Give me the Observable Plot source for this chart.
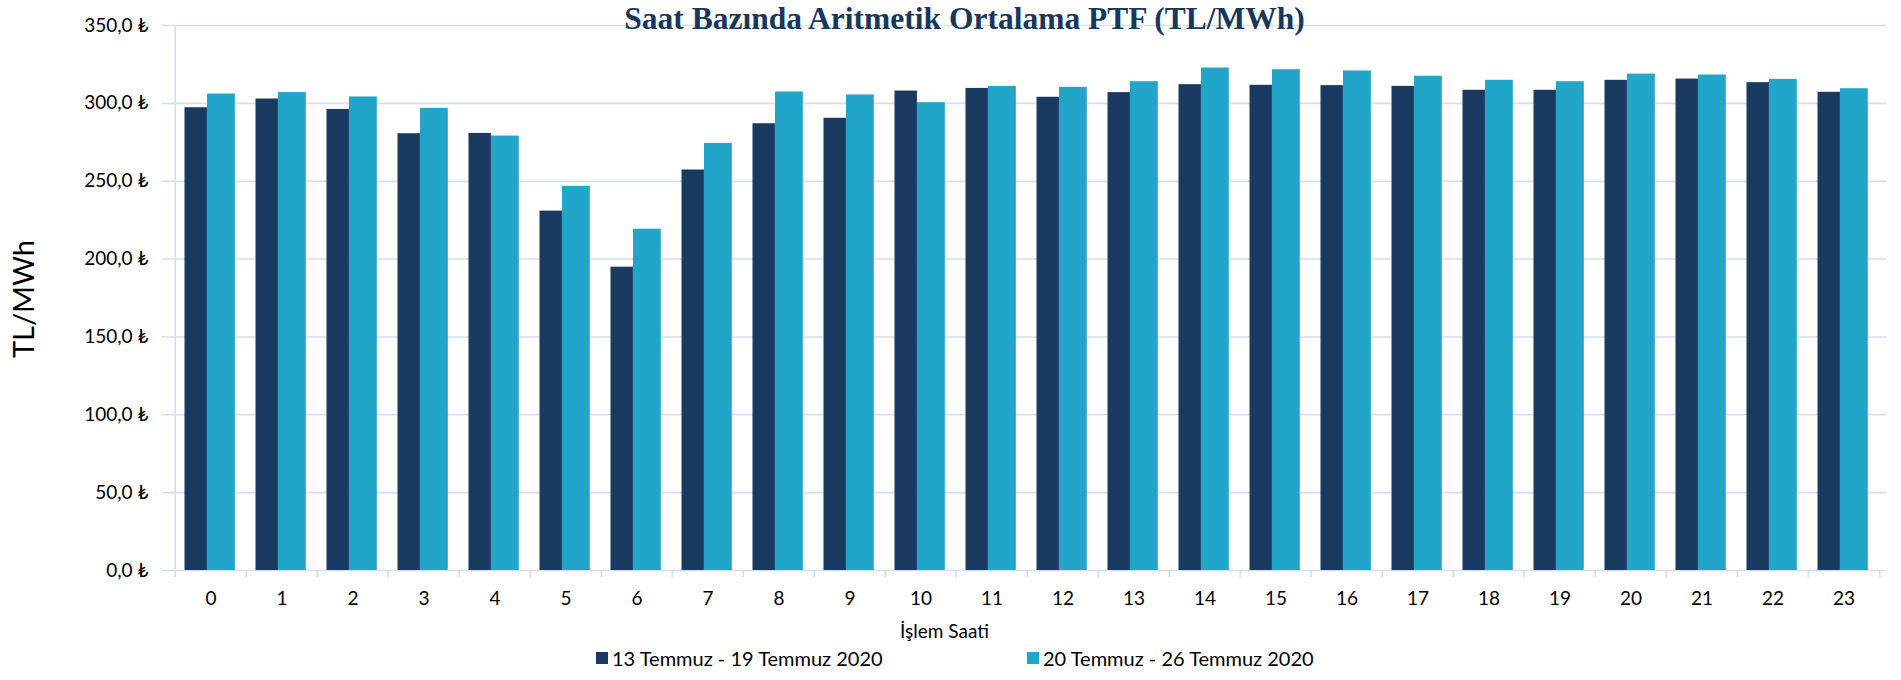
<!DOCTYPE html>
<html>
<head>
<meta charset="utf-8">
<script src="https://cdn.jsdelivr.net/npm/d3@7"></script>
<script src="https://cdn.jsdelivr.net/npm/@observablehq/plot@0.6"></script>
<style>
  html, body { margin: 0; padding: 0; background: #fff; }
  #wrap { position: relative; width: 1901px; height: 680px; overflow: hidden; font-family: Lato, "Noto Sans", sans-serif; }
  #legend { position: absolute; left: 0; top: 640px; width: 1901px; height: 40px; }
  .item { position: absolute; top: 6px; display: flex; align-items: center; font-size: 20px; color: #000; white-space: nowrap; }
  .sw { width: 12px; height: 12px; margin-right: 4px; }
  #ylab { position: absolute; left: 22px; top: 299px; transform: translate(-50%, -50%) rotate(-90deg); font-size: 29px; color: #000; white-space: nowrap; line-height: 1; }
</style>
</head>
<body>
<div id="wrap"><div id="chart"></div><div id="ylab"></div><div id="legend"></div></div>
<script>
const hours = [0,1,2,3,4,5,6,7,8,9,10,11,12,13,14,15,16,17,18,19,20,21,22,23];
const seriesNames = ["13 Temmuz - 19 Temmuz 2020", "20 Temmuz - 26 Temmuz 2020"];
const week1 = [297.2,302.8,296.1,280.5,280.7,230.8,194.8,257.2,286.9,290.4,307.9,309.6,303.9,306.9,312.0,311.6,311.4,310.9,308.4,308.4,314.8,315.6,313.3,307.1];
const week2 = [306.0,306.9,304.1,296.8,279.0,246.7,219.2,274.3,307.3,305.4,300.4,310.9,310.3,313.9,322.7,321.6,320.8,317.4,314.8,313.9,318.8,318.2,315.4,309.4];
const yTicks = [0,50,100,150,200,250,300,350];
const colors = ["#1b3a61", "#21a5c9"];
const titleText = "Saat Bazında Aritmetik Ortalama PTF (TL/MWh)";
const yLabel = "TL/MWh";
const xLabel = "İşlem Saati";

const rows1 = hours.map((h, i) => ({hour: h, value: week1[i]}));
const rows2 = hours.map((h, i) => ({hour: h, value: week2[i]}));

const W = 1901, ML = 168, MR = 15, MT = 25, MB = 70, H = 640;
const bw = (W - ML - MR) / hours.length;
const cx = ML + (W - ML - MR) / 2;
const grid = "#d5dfef";
const fmt = d => d.toFixed(1).replace(".", ",") + " ₺";

const chart = Plot.plot({
  width: W, height: H,
  marginLeft: ML, marginRight: MR, marginTop: MT, marginBottom: MB,
  style: {fontFamily: "Lato, 'Noto Sans', sans-serif", fontSize: "18px", color: "#000", background: "transparent", overflow: "visible"},
  x: {type: "band", domain: hours, padding: 0},
  y: {domain: [0, 350]},
  marks: [
    Plot.gridY(yTicks, {stroke: grid, strokeOpacity: 1, strokeWidth: 1.6}),
    Plot.ruleX([hours[0]], {x: d => d, dx: -bw / 2, y1: 0, y2: 350, stroke: grid, strokeWidth: 1.6}),
    Plot.barY(rows1, {x: "hour", y: "value", fill: colors[0], insetLeft: 9.5, insetRight: bw - 32.5}),
    Plot.barY(rows2, {x: "hour", y: "value", fill: colors[1], insetLeft: 32, insetRight: 11.2}),
    Plot.axisY(yTicks, {label: null, tickFormat: fmt, tickSize: 6, tickPadding: 14, stroke: grid, strokeWidth: 1.6, fill: "#000", fontSize: 19}),
    Plot.axisX(hours, {label: null, tickSize: 7, tickFormat: () => "", dx: -bw / 2, stroke: grid, strokeWidth: 1.6}),
    Plot.axisX([23], {label: null, tickSize: 7, tickFormat: () => "", dx: bw / 2, stroke: grid, strokeWidth: 1.6}),
    Plot.axisX(hours, {label: null, tickSize: 0, tickPadding: 28, lineAnchor: "middle", fill: "#000", fontSize: 19}),
    Plot.text([xLabel], {frameAnchor: "bottom", dx: 944 - cx, dy: 61, lineAnchor: "middle", fontSize: 19, fill: "#000"}),
    Plot.text([titleText], {frameAnchor: "top", dx: 964 - cx, dy: 3, lineAnchor: "bottom", fontFamily: "'Liberation Serif', serif", fontWeight: "bold", fontSize: 31.5, fill: "#17375e"})
  ]
});
document.getElementById("chart").appendChild(chart);
document.getElementById("ylab").textContent = yLabel;

const legend = document.getElementById("legend");
const lefts = [596, 1027];
seriesNames.forEach((name, i) => {
  const it = document.createElement("div");
  it.className = "item";
  it.style.left = lefts[i] + "px";
  const sw = document.createElement("span");
  sw.className = "sw";
  sw.style.background = colors[i];
  const t = document.createElement("span");
  t.textContent = name;
  it.appendChild(sw); it.appendChild(t);
  legend.appendChild(it);
});
</script>
</body>
</html>
